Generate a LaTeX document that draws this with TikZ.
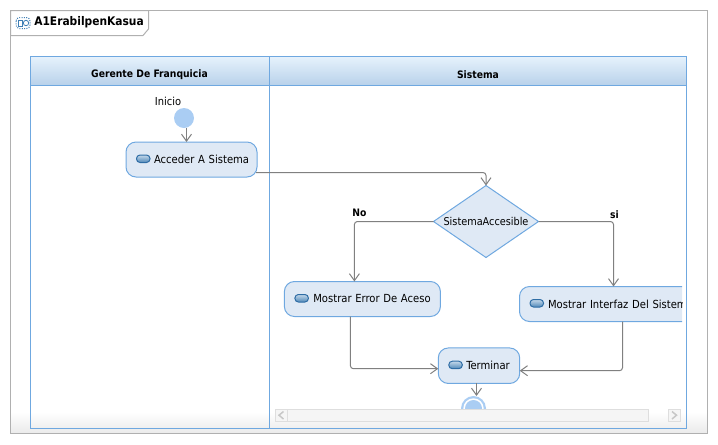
\documentclass[tikz,border=0pt]{standalone}
\usepackage{fontspec}
\setmainfont{DejaVu Sans Condensed}
\usetikzlibrary{arrows.meta,calc,shapes.geometric}
\def\u{0.75pt}
\definecolor{lanec}{HTML}{6FA8E0}
\definecolor{fillc}{HTML}{DFE9F5}
\definecolor{framec}{HTML}{B0B0B0}
\definecolor{edgec}{HTML}{808080}
\definecolor{dotc}{HTML}{AACDF3}
\definecolor{headt}{HTML}{E6F2FC}
\definecolor{headb}{HTML}{B8D1EA}
\definecolor{pillt}{HTML}{C4D8EA}
\definecolor{pillb}{HTML}{4F88B8}
\definecolor{pilld}{HTML}{2F6DA5}
\definecolor{iconc}{HTML}{3F7FB5}
\tikzset{
  activity/.style={draw=lanec,fill=fillc,line width=\u,rounded corners=10*\u,minimum height=35*\u,inner xsep=0pt,inner ysep=0pt,outer sep=0pt,font=\fontsize{8.35pt}{10pt}\selectfont,align=left},
  decision/.style={draw=lanec,fill=fillc,line width=\u,diamond,aspect=1.46,inner sep=0pt,outer sep=0pt,font=\fontsize{8.1pt}{10pt}\selectfont},
  edge/.style={draw=edgec,line width=\u,rounded corners=3*\u,-{Straight Barb[length=7*\u,width=10*\u,line width=\u]}},
  txt/.style={inner sep=0pt,font=\fontsize{8.25pt}{10pt}\selectfont},
  btxt/.style={inner sep=0pt,font=\fontsize{7.7pt}{10pt}\selectfont\bfseries},
  lane/.style={draw=lanec,line width=\u},
  sbar/.style={draw=black!13,fill=black!4,line width=\u},
  chev/.style={draw=black!22,line width=1.5*\u}
}
\newcommand{\pillat}[1]{%
  \shade[top color=pillt,bottom color=pillb,rounded corners=3.5*\u,draw=pilld,line width=\u]
    ($(#1.west)+(10.5,-4.5)$) rectangle ($(#1.west)+(24,3)$);
}
\begin{document}
\begin{tikzpicture}[x=\u,y=-\u]
\useasboundingbox (0,0) rectangle (718,444);
% frame
\shade[top color=white,bottom color=black!8] (10.5,412) rectangle (707.5,433);
\draw[framec,line width=\u] (10.5,10.5) rectangle (707.5,433);
\draw[framec,line width=\u,fill=white] (10.5,10.5) -- (148.5,10.5) -- (148.5,29) -- (143,35.5) -- (10.5,35.5) -- cycle;
\node[inner sep=0pt,anchor=west,font=\fontsize{8.9pt}{12pt}\selectfont\bfseries] (title) at (34,22.5) {A1ErabilpenKasua};
\draw[iconc,line width=\u,densely dotted,rounded corners=3.5*\u] (16,17.5) rectangle (30,28.5);
\draw[iconc,line width=0.8*\u] (18.5,20.5) rectangle (22.5,26);
\draw[iconc,line width=0.8*\u] (26,23) circle[radius=2.7];
% lanes
\shade[top color=headt,bottom color=headb] (30.5,56.5) rectangle (686.5,85.5);
\draw[lane] (30.5,56.5) rectangle (686.5,428.5);
\draw[lane] (30.5,85.5) -- (686.5,85.5);
\draw[lane] (269.5,56.5) -- (269.5,428.5);
\node[btxt] (h1) at (149.5,75) {Gerente De Franquicia};
\node[btxt] (h2) at (478,75) {Sistema};
% nodes
\node[txt] (inicio) at (168,101) {Inicio};
\node[circle,fill=dotc,minimum size=20*\u,inner sep=0pt,outer sep=0pt] (start) at (184,118) {};
\node[activity,minimum width=131*\u,text width=131*\u] (acc) at (191.5,159.5) {\hspace*{21pt}Acceder A Sistema};
\pillat{acc}
\node[decision,minimum width=105*\u,minimum height=72*\u] (dec) at (486,221.5) {SistemaAccesible};
\node[activity,minimum width=156*\u,text width=156*\u] (err) at (362.4,299) {\hspace*{21.7pt}Mostrar Error De Aceso};
\pillat{err}
\begin{scope}
\clip (500,270) rectangle (682,330);
\node[activity,minimum width=190*\u,text width=190*\u] (int) at (614.5,304) {\hspace*{21.4pt}Mostrar Interfaz Del Sistema};
\pillat{int}
\end{scope}
\node[activity,minimum width=81.4*\u,minimum height=35.5*\u,text width=81.4*\u] (term) at (479,365.7) {\hspace*{21pt}Terminar};
\pillat{term}
\node[circle,fill=dotc,minimum size=25*\u,inner sep=0pt,outer sep=0pt] (final) at (473.5,408.5) {};
\fill[white] (final.center) circle[radius=10.2];
\fill[dotc] (final.center) circle[radius=8.5];
% scrollbar
\draw[sbar] (287.5,409.5) rectangle (648.5,421);
\draw[sbar] (275.5,409.5) rectangle (287.5,421);
\draw[sbar] (668,409.5) rectangle (680,421);
\draw[chev] (283.5,411.5) -- (279,415.2) -- (283.5,419);
\draw[chev] (672,411.5) -- (676.5,415.2) -- (672,419);
% connectors
\coordinate (s1) at ($(acc.north)+(-5,0)$);
\draw[edge] (s1 |- start.south) -- (s1);
\draw[edge] ($(acc.east)+(-1,13)$) -| (dec.north);
\draw[edge] (dec.west) -| ($(err.north)+(-8,0)$);
\node[btxt] (lno) at (359.5,212.5) {No};
\draw[edge] (dec.east) -| ($(int.north)+(-1,0)$);
\node[btxt] (lsi) at (614.5,214.5) {si};
\draw[edge] ($(err.south)+(-12,0)$) |- ($(term.west)+(0,3)$);
\draw[edge] ($(int.south)+(8,0)$) |- ($(term.east)+(0,5)$);
\coordinate (s2) at ($(term.south)+(-2.5,0)$);
\draw[edge] (s2) -- (s2 |- final.north);
\end{tikzpicture}
\end{document}
